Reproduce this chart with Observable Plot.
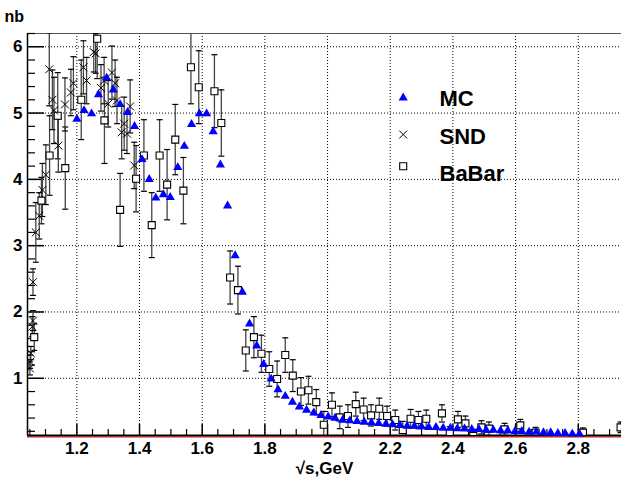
<!DOCTYPE html>
<html><head><meta charset="utf-8">
<script src="https://cdn.jsdelivr.net/npm/d3@7"></script>
<script src="https://cdn.jsdelivr.net/npm/@observablehq/plot@0.6"></script>
<style>
html,body{margin:0;padding:0;background:#fff;}
#chart{width:621px;height:480px;overflow:hidden;}
</style></head><body><div id="chart"></div>
<script>
// ---- data ----
const mcX = [1.200,1.223,1.247,1.269,1.295,1.316,1.338,1.362,1.384,1.408,1.431,1.452,1.476,1.498,1.522,1.543,1.566,1.591,1.614,1.635,1.658,1.681,1.705,1.728,1.751,1.774,1.796,1.820,1.842,1.865,1.888,1.910,1.933,1.956,1.979,2.002,2.024,2.048,2.071,2.094,2.117,2.140,2.163,2.186,2.208,2.231,2.254,2.277,2.300,2.323,2.346,2.369,2.392,2.414,2.437,2.460,2.483,2.506,2.529,2.552,2.575,2.598,2.620,2.643,2.666,2.689,2.712,2.735,2.758,2.781,2.804];
const mcY = [4.91,5.04,4.99,5.28,5.53,5.35,5.13,5.01,4.80,4.30,4.00,3.72,3.77,3.73,4.18,4.50,4.83,4.99,4.99,4.72,4.22,3.60,2.85,2.30,1.82,1.49,1.21,0.99,0.83,0.73,0.64,0.57,0.52,0.48,0.44,0.42,0.40,0.37,0.36,0.35,0.34,0.33,0.32,0.31,0.30,0.29,0.28,0.28,0.27,0.26,0.26,0.25,0.25,0.24,0.24,0.23,0.23,0.22,0.22,0.21,0.21,0.20,0.20,0.19,0.19,0.18,0.18,0.17,0.17,0.16,0.16];

const sndX = [1.050,1.051,1.053,1.058,1.060,1.060,1.069,1.080,1.090,1.101,1.112,1.122,1.127,1.141,1.162,1.181,1.189,1.221,1.231,1.254,1.260,1.277,1.287,1.300,1.312,1.322,1.328,1.343,1.351,1.360,1.370,1.383];
const sndY = [1.15,1.25,1.38,1.78,1.87,2.45,3.20,3.45,3.84,4.07,5.66,5.20,5.04,4.51,5.13,5.31,5.45,5.69,5.49,5.92,5.90,5.38,5.49,5.14,5.61,5.45,5.19,4.71,4.84,4.69,5.10,4.21];
const sndErr = [0.1,0.1,0.1,0.15,0.15,0.2,0.45,0.35,0.4,0.45,0.55,0.45,0.5,0.4,0.4,0.35,0.4,0.4,0.35,0.3,0.3,0.35,0.35,0.35,0.4,0.35,0.35,0.4,0.4,0.3,0.4,0.35];

const babarX = [1.064,1.087,1.113,1.139,1.163,1.214,1.265,1.288,1.338,1.389,1.414,1.439,1.464,1.488,1.514,1.540,1.564,1.589,1.639,1.661,1.689,1.714,1.739,1.765,1.789,1.814,1.839,1.865,1.889,1.915,1.939,1.964,1.988,2.014,2.039,2.065,2.090,2.115,2.139,2.165,2.190,2.216,2.240,2.265,2.290,2.315,2.365,2.390,2.416,2.440,2.465,2.491,2.515,2.565,2.615,2.664,2.815,2.935];
const babarY = [1.62,3.68,4.36,4.96,4.17,5.20,6.12,4.89,3.54,4.01,4.36,3.31,4.36,3.92,4.60,3.83,5.69,5.39,5.33,4.85,2.52,2.33,1.42,1.62,1.37,1.14,0.99,1.35,1.04,0.80,0.82,0.64,0.30,0.60,0.41,0.43,0.61,0.53,0.44,0.54,0.43,0.37,0.22,0.39,0.37,0.39,0.47,0.17,0.38,0.32,0.13,0.26,0.24,0.23,0.29,0.18,0.18,0.26];
const babarErr = [0.2,0.35,0.6,0.65,0.62,0.6,0.6,0.65,0.55,0.5,0.54,0.49,0.54,0.53,0.53,0.5,0.55,0.55,0.55,0.5,0.4,0.36,0.31,0.31,0.28,0.26,0.27,0.26,0.24,0.21,0.21,0.19,0.2,0.18,0.17,0.17,0.18,0.17,0.16,0.16,0.15,0.15,0.13,0.14,0.13,0.13,0.13,0.1,0.12,0.11,0.1,0.1,0.1,0.09,0.09,0.08,0.07,0.08];

const xTicks = [1.2,1.4,1.6,1.8,2.0,2.2,2.4,2.6,2.8];
const xTickLabels = ["1.2","1.4","1.6","1.8","2","2.2","2.4","2.6","2.8"];
const yTicks = [1,2,3,4,5,6];
const yTickLabels = ["1","2","3","4","5","6"];
const legendLabels = ["MC","SND","BaBar"];
const yTitle = "nb";
const xTitle = "\u221As,GeV";

// ---- layout ----
const W = 621, H = 480, mL = 27, mR = 0, mT = 33, mB = 45;
const xDomain = [1.0425, 2.938];
const yDomain = [0.137, 6.2];
const kx = (xDomain[1] - xDomain[0]) / (W - mL - mR);
const ky = (yDomain[1] - yDomain[0]) / (H - mT - mB);
const xMinor = d3.range(21, 59).map(i => +(i * 0.05).toFixed(2)).filter(v => !xTicks.some(t => Math.abs(t - v) < 1e-6));
const yMinor = d3.range(1, 32).map(i => +(i * 0.2).toFixed(1)).filter(v => !yTicks.includes(v));
const font = "'Liberation Sans', Arial, Helvetica, sans-serif";
const cap = {draw(ctx) { ctx.moveTo(-3, 0); ctx.lineTo(3, 0); }};

const mc = mcX.map((x, i) => ({x, y: mcY[i]}));
const snd = sndX.map((x, i) => ({x, y: sndY[i], lo: sndY[i] - sndErr[i], hi: sndY[i] + sndErr[i]}));
const babar = babarX.map((x, i) => ({x, y: babarY[i], lo: babarY[i] - babarErr[i], hi: babarY[i] + babarErr[i]}));
const sndCaps = snd.flatMap(d => [{x: d.x, y: d.lo}, {x: d.x, y: d.hi}]);
const babarCaps = babar.flatMap(d => [{x: d.x, y: d.lo}, {x: d.x, y: d.hi}]);

const grid = {stroke: "black", strokeOpacity: 1, strokeWidth: 1, strokeDasharray: "1,2"};

const chart = Plot.plot({
  width: W, height: H,
  marginLeft: mL, marginRight: mR, marginTop: mT, marginBottom: mB,
  style: {fontFamily: font, background: "white", color: "black"},
  x: {domain: xDomain, axis: null},
  y: {domain: yDomain, axis: null},
  marks: [
    // grid
    Plot.ruleX(xTicks, {x: d => d, ...grid}),
    Plot.ruleY(yTicks, {y: d => d, ...grid}),
    // frame
    Plot.ruleY([yDomain[1]], {y: d => d, stroke: "#555", strokeWidth: 1.2}),
    Plot.ruleY([yDomain[0]], {y: d => d, stroke: "red", strokeWidth: 1, dy: 1.5}),
    Plot.ruleY([yDomain[0]], {y: d => d, stroke: "black", strokeWidth: 2}),
    Plot.ruleX([xDomain[0]], {x: d => d, stroke: "black", strokeWidth: 1.5}),
    // ticks
    Plot.ruleY(yTicks, {y: d => d, x1: xDomain[0], x2: xDomain[0] + 17 * kx, stroke: "black", strokeWidth: 1.5}),
    Plot.ruleY(yMinor, {y: d => d, x1: xDomain[0], x2: xDomain[0] + 8 * kx, stroke: "black", strokeWidth: 1.2}),
    Plot.ruleX(xTicks, {x: d => d, y1: yDomain[0], y2: yDomain[0] + 11 * ky, stroke: "black", strokeWidth: 1.5}),
    Plot.ruleX(xMinor, {x: d => d, y1: yDomain[0], y2: yDomain[0] + 6 * ky, stroke: "black", strokeWidth: 1.2}),
    // tick labels
    Plot.text(yTicks, {y: d => d, text: (d, i) => yTickLabels[i], frameAnchor: "left", textAnchor: "end", dx: -5, fontSize: 17, fontWeight: "bold"}),
    Plot.text(xTicks, {x: d => d, text: (d, i) => xTickLabels[i], frameAnchor: "bottom", lineAnchor: "top", dy: 6, fontSize: 17, fontWeight: "bold"}),
    // titles
    Plot.text([yTitle], {frameAnchor: "top-left", textAnchor: "start", dx: -23, dy: -23, fontSize: 16, fontWeight: "bold"}),
    Plot.text([xTitle], {frameAnchor: "bottom", lineAnchor: "bottom", dy: 38, fontSize: 17, fontWeight: "bold"}),
    // BaBar error bars and squares
    Plot.ruleX(babar, {x: "x", y1: "lo", y2: "hi", stroke: "#444", strokeWidth: 1.3, clip: true}),
    Plot.dot(babarCaps, {x: "x", y: "y", symbol: cap, fill: "none", stroke: "black", strokeWidth: 1.2, clip: true}),
    // SND error bars and crosses
    Plot.ruleX(snd, {x: "x", y1: "lo", y2: "hi", stroke: "#444", strokeWidth: 1.3, clip: true}),
    Plot.dot(sndCaps, {x: "x", y: "y", symbol: cap, fill: "none", stroke: "black", strokeWidth: 1.2, clip: true}),
    Plot.dot(babar, {x: "x", y: "y", symbol: "square", r: 3.95, fill: "white", stroke: "black", strokeWidth: 1.1, clip: true}),
    Plot.dot(snd, {x: "x", y: "y", symbol: "times", r: 3.7, stroke: "black", strokeWidth: 1, clip: true}),
    // MC triangles
    Plot.dot(mc, {x: "x", y: "y", symbol: "triangle", r: 3.4, fill: "#0000ff", stroke: "none"}),
    // legend
    Plot.dot([legendLabels[0]], {frameAnchor: "top-left", dx: 375.7, dy: 64.3, symbol: "triangle", r: 3.4, fill: "#0000ff", stroke: "none"}),
    Plot.dot([legendLabels[1]], {frameAnchor: "top-left", dx: 375.7, dy: 101, symbol: "times", r: 3.7, stroke: "black", strokeWidth: 1}),
    Plot.dot([legendLabels[2]], {frameAnchor: "top-left", dx: 375.7, dy: 132.7, symbol: "square", r: 3.95, fill: "white", stroke: "black", strokeWidth: 1.1}),
    Plot.text([legendLabels[0]], {frameAnchor: "top-left", textAnchor: "start", dx: 412, dy: 57, fontSize: 22, fontWeight: "bold"}),
    Plot.text([legendLabels[1]], {frameAnchor: "top-left", textAnchor: "start", dx: 412, dy: 94.5, fontSize: 22, fontWeight: "bold"}),
    Plot.text([legendLabels[2]], {frameAnchor: "top-left", textAnchor: "start", dx: 412, dy: 132, fontSize: 22, fontWeight: "bold"})
  ]
});
document.getElementById("chart").appendChild(chart);
</script></body></html>
